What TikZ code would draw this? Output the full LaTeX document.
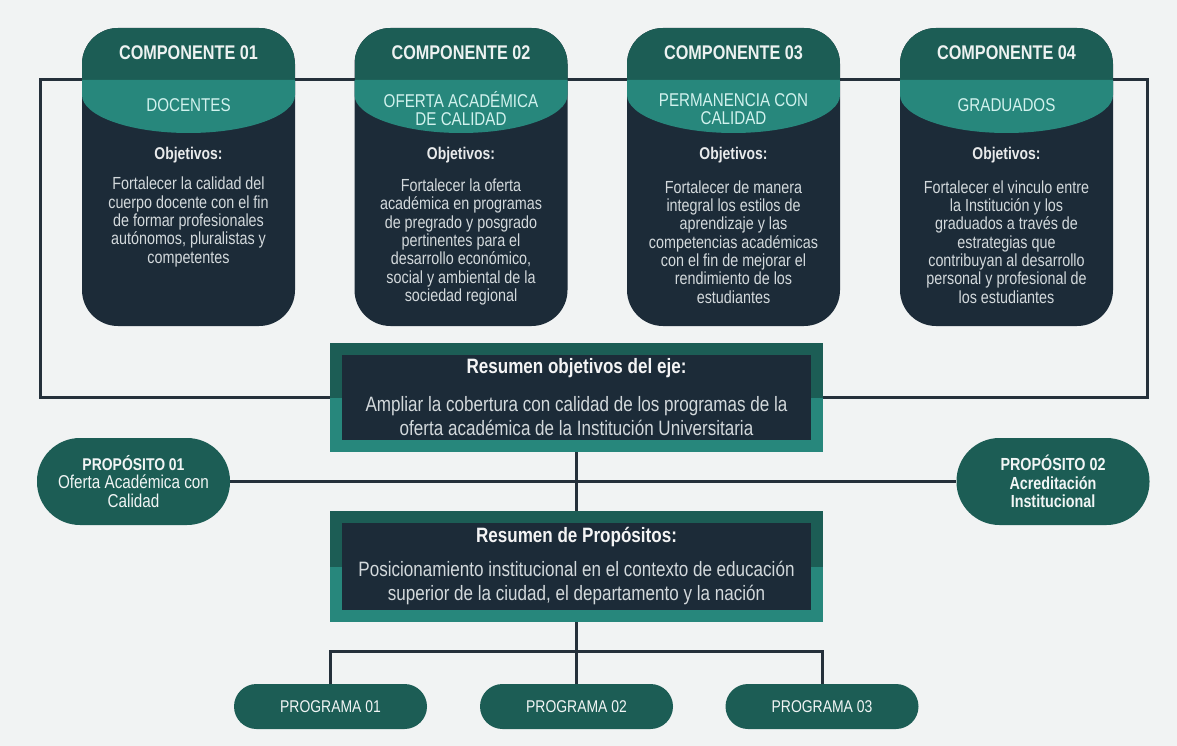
\documentclass[tikz,border=0pt]{standalone}
\usepackage{fontspec}
\setmainfont[FakeStretch=0.82]{Liberation Sans}
\usetikzlibrary{backgrounds}
\definecolor{bggray}{HTML}{F1F3F3}
\definecolor{hdgreen}{HTML}{1C5D55}
\definecolor{bandteal}{HTML}{27877C}
\definecolor{cardnavy}{HTML}{1C2B38}
\definecolor{linedark}{HTML}{25303A}
\definecolor{bodygray}{HTML}{D3D9DC}
\definecolor{bandtext}{HTML}{D2F2EE}
\begin{document}
\begin{tikzpicture}
    [x=1pt,y=-1pt,inner sep=0pt,
     compcard/.style={rounded corners=36pt,fill=cardnavy,minimum width=213pt,minimum height=298pt,
       path picture={
         \fill[hdgreen,sharp corners] (path picture bounding box.north west) rectangle ([yshift=-52pt]path picture bounding box.north east);
         \fill[bandteal,sharp corners] ([yshift=-52pt]path picture bounding box.north west) -- ++(0pt,-15pt)
           arc[start angle=180,end angle=360,x radius=106.5pt,y radius=38pt]
           -- ([yshift=-52pt]path picture bounding box.north east) -- cycle;}},
     sumbox/.style={fill=cardnavy,minimum width=493pt,
       path picture={
         \fill[hdgreen] (path picture bounding box.north west) rectangle (path picture bounding box.east);
         \fill[bandteal] (path picture bounding box.west) rectangle (path picture bounding box.south east);
         \fill[cardnavy] ([shift={(12pt,-12pt)}]path picture bounding box.north west)
           rectangle ([shift={(-12pt,12pt)}]path picture bounding box.south east);}},
     pill/.style={rounded corners=22.5pt,fill=hdgreen,minimum width=193pt,minimum height=45pt,
       text=white!94!hdgreen,font=\fontsize{17}{18}\selectfont},
     proppill/.style={rounded corners=43pt,fill=hdgreen,minimum width=193pt,minimum height=87pt,
       text=white!94!hdgreen,align=center,font=\fontsize{18.6}{18.5}\selectfont},
     hdtext/.style={text=white!92!hdgreen,font=\bfseries\fontsize{19.8}{20}\selectfont},
     subtext/.style={text=bandtext,align=center,font=\fontsize{18.5}{18}\selectfont},
     objtext/.style={text=white!90!cardnavy,font=\bfseries\fontsize{17}{18}\selectfont},
     bodytext/.style={text=bodygray,align=center,font=\fontsize{17.5}{18.3}\selectfont},
     sumtitle/.style={text=white!95!cardnavy,font=\bfseries\fontsize{20.8}{22}\selectfont},
     sumtext/.style={text=bodygray,align=center,font=\fontsize{20.8}{24}\selectfont},
     conn/.style={draw=linedark,line width=3pt}]
    \node (comp1) at (188.5, 177) [compcard] {};
    \node (comp2) at (461, 177) [compcard] {};
    \node (comp3) at (733.5, 177) [compcard] {};
    \node (comp4) at (1006.5, 177) [compcard] {};
    \node (comp1hd) at (188.5, 53) [hdtext] {COMPONENTE 01};
    \node (comp2hd) at (461, 53) [hdtext] {COMPONENTE 02};
    \node (comp3hd) at (733.5, 53) [hdtext] {COMPONENTE 03};
    \node (comp4hd) at (1006.5, 53) [hdtext] {COMPONENTE 04};
    \node (comp1sub) at (188.5, 105) [subtext] {DOCENTES};
    \node (comp2sub) at (461, 109) [subtext] {OFERTA ACADÉMICA\\DE CALIDAD};
    \node (comp3sub) at (733.5, 109) [subtext] {PERMANENCIA CON\\CALIDAD};
    \node (comp4sub) at (1006.5, 105) [subtext] {GRADUADOS};
    \node (comp1obj) at (188.5, 155) [objtext] {Objetivos:};
    \node (comp2obj) at (461, 155) [objtext] {Objetivos:};
    \node (comp3obj) at (733.5, 155) [objtext] {Objetivos:};
    \node (comp4obj) at (1006.5, 155) [objtext] {Objetivos:};
    \node (comp1txt) at (188.5, 222) [bodytext] {Fortalecer la calidad del\\cuerpo docente con el fin\\de formar profesionales\\autónomos, pluralistas y\\competentes};
    \node (comp2txt) at (461, 242) [bodytext] {Fortalecer la oferta\\académica en programas\\de pregrado y posgrado\\pertinentes para el\\desarrollo económico,\\social y ambiental de la\\sociedad regional};
    \node (comp3txt) at (733.5, 242) [bodytext] {Fortalecer de manera\\integral los estilos de\\aprendizaje y las\\competencias académicas\\con el fin de mejorar el\\rendimiento de los\\estudiantes};
    \node (comp4txt) at (1006.5, 242) [bodytext] {Fortalecer el vinculo entre\\la Institución y los\\graduados a través de\\estrategias que\\contribuyan al desarrollo\\personal y profesional de\\los estudiantes};
    \node (sumobj) at (576.5, 397.5) [sumbox,minimum height=109pt] {};
    \node (sumobjhd) at (576.5, 368) [sumtitle] {Resumen objetivos del eje:};
    \node (sumobjtxt) at (576.5, 416) [sumtext] {Ampliar la cobertura con calidad de los programas de la\\oferta académica de la Institución Universitaria};
    \node (prop1) at (133.5, 481.5) [proppill] {{\bfseries\fontsize{17}{18.5}\selectfont PROPÓSITO 01}\\Oferta Académica con\\Calidad};
    \node (prop2) at (1053, 481.5) [proppill,font=\bfseries\fontsize{17.5}{18.5}\selectfont] {PROPÓSITO 02\\Acreditación\\Institucional};
    \node (sumprop) at (576.5, 566.5) [sumbox,minimum height=111pt] {};
    \node (sumprophd) at (576.5, 537) [sumtitle] {Resumen de Propósitos:};
    \node (sumproptxt) at (576.5, 583) [sumtext] {Posicionamiento institucional en el contexto de educación\\superior de la ciudad, el departamento y la nación};
    \node (prog1) at (330.5, 706.5) [pill] {PROGRAMA 01};
    \node (prog2) at (576.5, 706.5) [pill] {PROGRAMA 02};
    \node (prog3) at (822, 706.5) [pill] {PROGRAMA 03};
    \coordinate (tl) at (40, 80);
    \coordinate (tr) at (1147, 80);
    \coordinate (bl) at (40, 397.5);
    \coordinate (br) at (1147, 397.5);
    \coordinate (bus) at (576.5, 651);
    \begin{pgfonlayer}{background}
      \fill[bggray] (0, 0) rectangle (1177, 746);
      \draw[conn] (sumobj.west) -- (bl) -- (tl) -- (tr) -- (br) -- (sumobj.east);
      \draw[conn] (sumobj.south) -- (sumprop.north);
      \draw[conn] (prop1) -- (prop2);
      \draw[conn] (sumprop.south) -- (prog2.north);
      \draw[conn] (prog1.north) -- (prog1.north |- bus) -- (prog3.north |- bus) -- (prog3.north);
    \end{pgfonlayer}
  \end{tikzpicture}
\end{document}
